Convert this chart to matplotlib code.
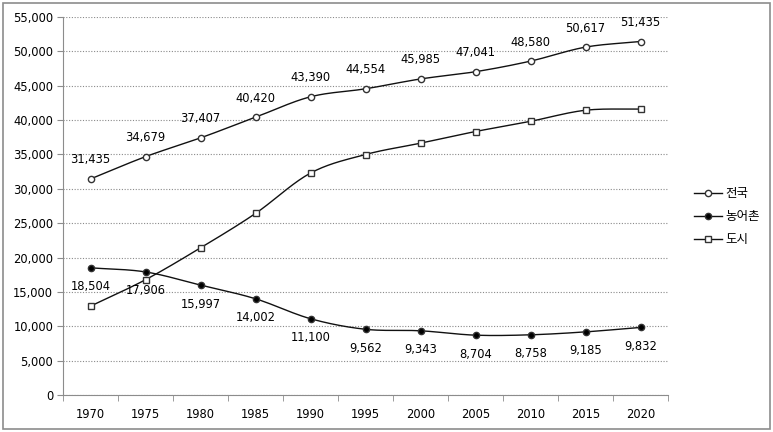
import numpy as np
import matplotlib
matplotlib.use('Agg')
import matplotlib.pyplot as plt
from matplotlib.patches import Rectangle

plt.rcParams['font.family'] = ['DejaVu Sans', 'Noto Sans CJK KR']

years = ['1970', '1975', '1980', '1985', '1990', '1995', '2000', '2005', '2010', '2015', '2020']
national = [31435, 34679, 37407, 40420, 43390, 44554, 45985, 47041, 48580, 50617, 51435]
rural = [18504, 17906, 15997, 14002, 11100, 9562, 9343, 8704, 8758, 9185, 9832]
urban = [12931, 16773, 21410, 26418, 32290, 34992, 36642, 38337, 39822, 41432, 41603]
names = ['전국', '농어촌', '도시']


def smooth(x, y, n=20):
    # excel-like smoothed line (catmull-rom through the points)
    x = np.asarray(x, float)
    y = np.asarray(y, float)
    px = np.concatenate([[2 * x[0] - x[1]], x, [2 * x[-1] - x[-2]]])
    py = np.concatenate([[2 * y[0] - y[1]], y, [2 * y[-1] - y[-2]]])
    xs, ys = [], []
    t = np.linspace(0, 1, n)
    for i in range(1, len(px) - 2):
        for p, out in ((px, xs), (py, ys)):
            p0, p1, p2, p3 = p[i - 1], p[i], p[i + 1], p[i + 2]
            out.extend(0.5 * ((2 * p1) + (-p0 + p2) * t
                              + (2 * p0 - 5 * p1 + 4 * p2 - p3) * t ** 2
                              + (-p0 + 3 * p1 - 3 * p2 + p3) * t ** 3))
    return xs, ys


fig = plt.figure(figsize=(7.73, 4.32), dpi=100)
fig.patches.append(Rectangle((0.004, 0.008), 0.992, 0.985, transform=fig.transFigure,
                             fill=False, edgecolor='#8c8c8c', linewidth=1.2))
ax = fig.add_axes([63 / 773, 1 - 395 / 432, (668 - 63) / 773, (395 - 17) / 432])

x = np.arange(len(years))
styles = [dict(marker='o', mfc='white', ms=4.5),
          dict(marker='o', mfc='black', ms=4.5),
          dict(marker='s', mfc='white', ms=5)]
lines = []
for vals, st, nm in zip([national, rural, urban], styles, names):
    sx, sy = smooth(x, vals)
    ax.plot(sx, sy, color='#111111', lw=1)
    ax.plot(x, vals, linestyle='none', color='black', mec='#333333', mew=1, **st)
    h, = ax.plot([], [], color='#111111', lw=1, mec='#333333', mew=1, label=nm, **st)
    lines.append(h)

for xi, v in zip(x, national):
    ax.annotate(f'{v:,}', (xi, v), xytext=(0, 9), textcoords='offset points',
                ha='center', va='bottom', fontsize=8.3)
for xi, v in zip(x, rural):
    ax.annotate(f'{v:,}', (xi, v), xytext=(0, -9), textcoords='offset points',
                ha='center', va='top', fontsize=8.3)

ax.set_xlim(-0.5, len(years) - 0.5)
ax.set_ylim(0, 55000)
ax.set_yticks(np.arange(0, 55001, 5000))
ax.set_yticklabels([f'{v:,}' for v in range(0, 55001, 5000)], fontsize=8.3)
ax.set_xticks(x)
ax.set_xticklabels(years, fontsize=8.3)
ax.set_xticks(np.arange(-0.5, len(years)), minor=True)
ax.tick_params(axis='x', which='major', length=0, pad=9)
ax.tick_params(axis='x', which='minor', length=4, color='#8c8c8c', direction='out')
ax.tick_params(axis='y', length=4, color='#8c8c8c', direction='out', pad=3)
ax.yaxis.grid(True, linestyle=(0, (1, 1.5)), color='#8a8a8a', lw=0.8)
ax.set_axisbelow(True)
for s in ['top', 'right']:
    ax.spines[s].set_visible(False)
for s in ['left', 'bottom']:
    ax.spines[s].set_color('#8c8c8c')

fig.legend(handles=lines, loc='center left', bbox_to_anchor=(683 / 773, 1 - 217 / 432),
           frameon=False, handlelength=2.2, handletextpad=0.3, labelspacing=0.8,
           prop={'family': ['Noto Sans CJK KR', 'DejaVu Sans'], 'size': 9})

fig.savefig('out.png', dpi=100)
